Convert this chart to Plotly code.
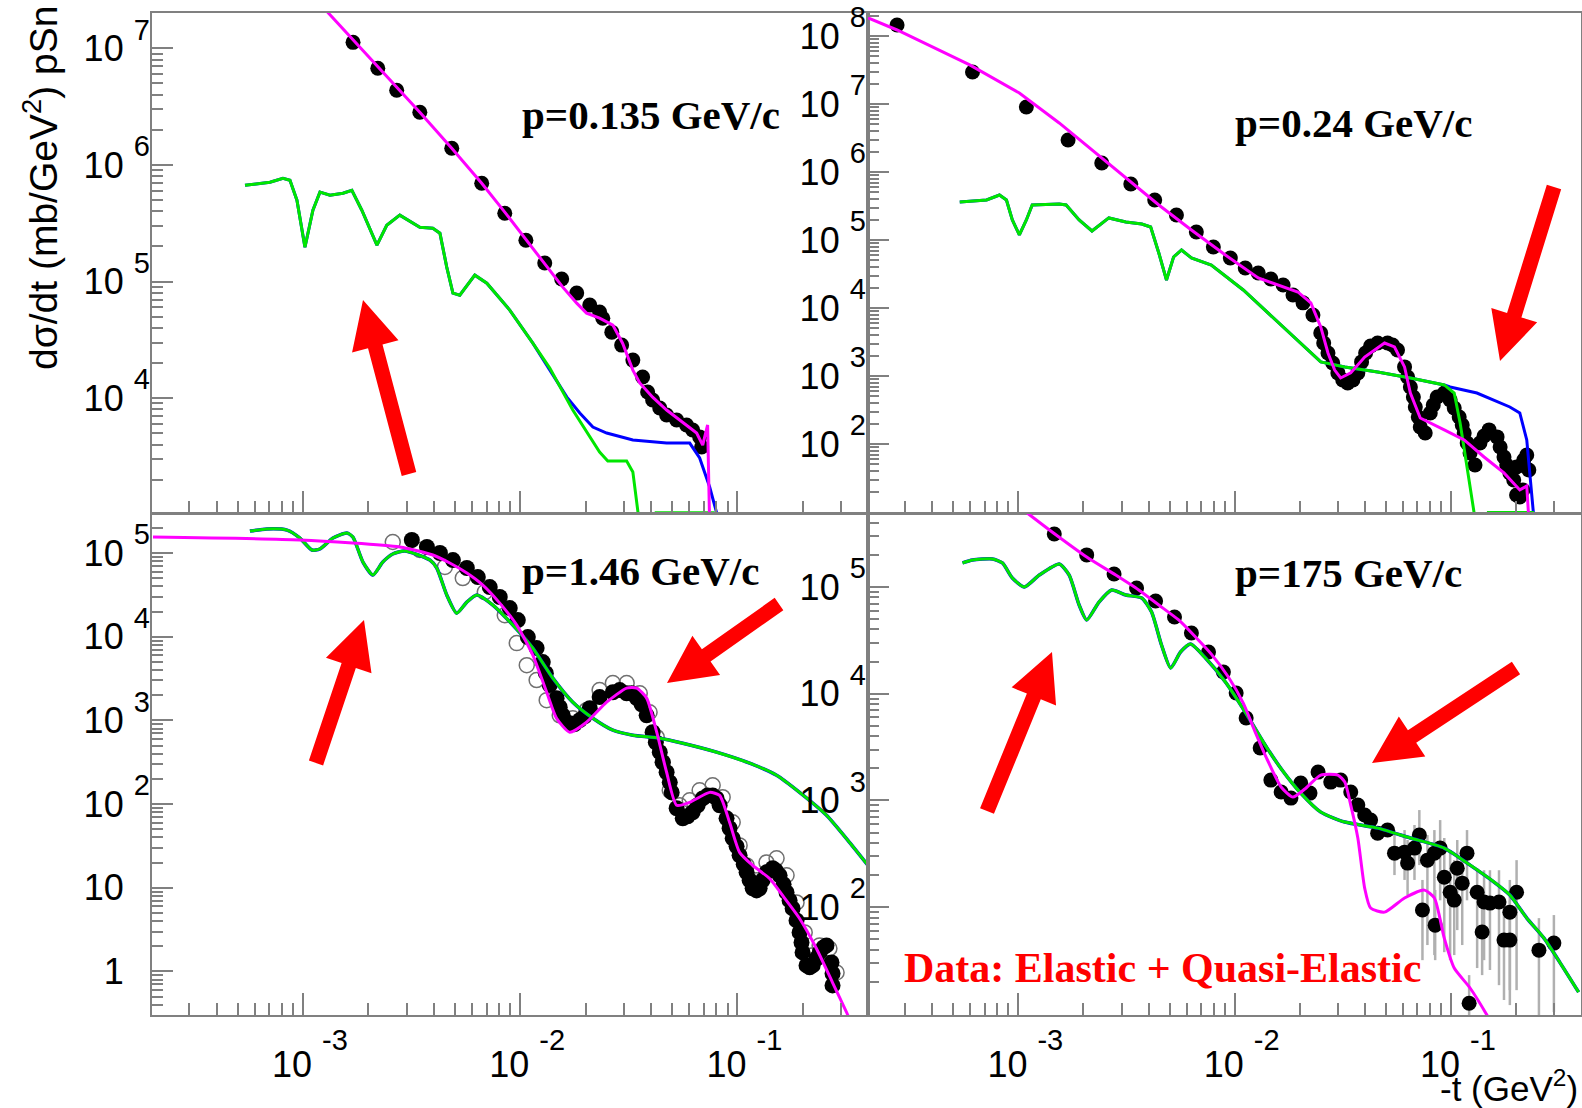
import math
import plotly.graph_objects as go

W, H = 1582, 1108

# ---------------- data ----------------
# Panel 1 : p = 0.135 GeV/c
tl_data_t = [1.70e-3, 2.21e-3, 2.70e-3, 3.45e-3, 4.84e-3, 6.65e-3, 8.49e-3, 1.062e-2, 1.297e-2, 1.552e-2,
             1.82e-2, 2.09e-2, 2.32e-2, 2.40e-2, 2.64e-2, 2.93e-2, 3.30e-2, 3.66e-2, 3.86e-2, 4.07e-2,
             4.39e-2, 4.72e-2, 5.25e-2, 5.83e-2, 6.22e-2, 6.70e-2, 6.84e-2]
tl_data_y = [1.125e7, 6.74e6, 4.37e6, 2.83e6, 1.39e6, 6.97e5, 3.85e5, 2.26e5, 1.44e5, 1.05e5,
             7.96e4, 6.28e4, 5.47e4, 4.85e4, 3.68e4, 2.85e4, 2.12e4, 1.52e4, 1.13e4, 9.64e3,
             8.22e3, 7.16e3, 6.49e3, 5.89e3, 5.33e3, 4.65e3, 3.81e3]
tl_mag_t = [1.135e-3, 2.79e-3, 3.45e-3, 4.84e-3, 6.65e-3, 8.49e-3, 1.072e-2, 1.297e-2, 1.57e-2, 1.82e-2,
            2.02e-2, 2.32e-2, 2.67e-2, 2.96e-2, 3.30e-2, 3.55e-2, 4.07e-2, 4.72e-2, 5.60e-2, 6.49e-2,
            6.92e-2, 7.29e-2, 7.45e-2]
tl_mag_y = [2.68e7, 4.37e6, 2.83e6, 1.39e6, 6.97e5, 3.94e5, 2.26e5, 1.44e5, 8.95e4, 6.53e4,
            5.36e4, 4.85e4, 4.23e4, 2.96e4, 1.74e4, 1.35e4, 1.02e4, 7.91e3, 6.24e3, 5.02e3,
            3.96e3, 5.89e3, 8e2]
tl_green_t = [5.41e-4, 7.05e-4, 8.09e-4, 8.71e-4, 9.38e-4, 1.021e-3, 1.111e-3, 1.197e-3, 1.331e-3, 1.528e-3,
              1.679e-3, 1.866e-3, 2.19e-3, 2.43e-3, 2.79e-3, 3.45e-3, 3.96e-3, 4.27e-3, 4.59e-3, 4.90e-3,
              5.27e-3, 6.18e-3, 7.02e-3, 8.95e-3, 1.143e-2, 1.368e-2, 1.746e-2, 2.02e-2, 2.32e-2, 2.53e-2,
              3.09e-2, 3.30e-2, 3.55e-2]
tl_green_y = [6.70e5, 7.11e5, 7.69e5, 7.40e5, 4.99e5, 1.97e5, 4.09e5, 5.84e5, 5.50e5, 5.72e5,
              6.07e5, 4.09e5, 2.05e5, 3.04e5, 3.71e5, 2.92e5, 2.87e5, 2.60e5, 1.33e5, 7.96e4,
              7.64e4, 1.135e5, 9.68e4, 5.69e4, 2.96e4, 1.81e4, 7.91e3, 5.13e3, 3.45e3, 2.89e3,
              2.89e3, 2.33e3, 8.0e2]
tl_green_floor_t = [4.16e-2, 7.85e-2]
tl_green_floor_y = [1.04e3, 1.04e3]
tl_blue_tail_t = [1.47e-2, 1.64e-2, 1.88e-2, 2.16e-2, 2.50e-2, 3.30e-2, 4.72e-2, 6.03e-2, 6.70e-2, 7.45e-2, 8.02e-2, 8.28e-2]
tl_blue_tail_y = [1.43e4, 1.02e4, 7.45e3, 5.65e3, 5.02e3, 4.37e3, 4.12e3, 4.12e3, 3.07e3, 1.73e3, 1.04e3, 8e2]

# Panel 2 : p = 0.24 GeV/c
tr_data_t = [2.75e-4, 6.14e-4, 1.089e-3, 1.698e-3, 2.43e-3, 3.31e-3, 4.27e-3, 5.38e-3, 6.65e-3, 7.97e-3,
             9.55e-3, 1.119e-2, 1.285e-2, 1.47e-2, 1.675e-2, 1.86e-2, 2.07e-2, 2.30e-2, 2.50e-2, 2.70e-2,
             3.00e-2, 3.33e-2, 3.71e-2, 4.03e-2, 4.58e-2, 5.09e-2, 5.66e-2, 6.10e-2, 6.49e-2, 6.84e-2,
             7.21e-2, 7.60e-2, 8.02e-2, 8.63e-2, 9.31e-2, 9.91e-2, 1.091e-1, 1.151e-1, 1.225e-1, 1.291e-1,
             1.361e-1, 1.50e-1, 1.633e-1, 1.758e-1, 1.871e-1, 2.01e-1, 2.08e-1, 2.17e-1, 2.29e-1,
             2.58e-2, 2.84e-2, 3.16e-2, 3.52e-2, 3.86e-2, 4.25e-2, 5.37e-2, 6.30e-2, 6.70e-2, 7.06e-2,
             8.28e-2, 1.035e-1, 1.127e-1, 1.188e-1, 1.422e-1, 1.687e-1, 1.81e-1, 1.95e-1, 2.13e-1, 2.24e-1,
             2.15e-1, 2.01e-1]
tr_data_y = [1.45e8, 2.96e7, 9.04e6, 2.96e6, 1.355e6, 6.67e5, 3.87e5, 2.33e5, 1.31e5, 7.89e4,
             5.43e4, 3.87e4, 3.27e4, 2.67e4, 2.18e4, 1.55e4, 1.19e4, 7.89e3, 4.29e3, 2.18e3,
             1.11e3, 7.89e2, 1.11e3, 2.18e3, 3.05e3, 3.05e3, 2.41e3, 1.36e3, 6.89e2, 3.50e2,
             1.78e2, 1.45e2, 2.86e2, 4.91e2, 5.62e2, 4.44e2, 2.49e2, 1.45e2, 73.8, 49.1,
             1.035e2, 1.61e2, 1.27e2, 64.4, 37.5, 45.9, 16.6, 58.2, 41.5,
             3.05e3, 1.55e3, 8.73e2, 8.73e2, 1.61e3, 2.76e3, 2.86e3, 9.66e2, 4.91e2, 2.49e2,
             3.75e2, 3.38e2, 1.90e2, 1.035e2, 1.31e2, 90.4, 49.1, 29.6, 49.1, 68.9,
             21.1, 17.8]
tr_mag_t = [2.02e-4, 2.75e-4, 5.96e-4, 1.011e-3, 1.545e-3, 2.19e-3, 3.14e-3, 4.46e-3, 6.31e-3, 9.06e-3,
            1.285e-2, 1.71e-2, 1.96e-2, 2.25e-2, 2.50e-2, 2.70e-2, 2.90e-2, 3.09e-2, 3.44e-2, 3.99e-2,
            4.93e-2, 5.48e-2, 6.10e-2, 6.49e-2, 7.21e-2, 9.31e-2, 1.151e-1, 1.422e-1, 1.758e-1, 2.08e-1,
            2.24e-1, 2.31e-1]
tr_mag_y = [1.84e8, 1.225e8, 3.75e7, 1.45e7, 5.26e6, 2.11e6, 8.17e5, 3.27e5, 1.40e5, 6.01e4,
            2.76e4, 1.97e4, 1.72e4, 1.19e4, 5.26e3, 2.18e3, 1.22e3, 9.35e2, 1.11e3, 1.90e3,
            3.05e3, 2.67e3, 1.36e3, 5.62e2, 2.41e2, 1.61e2, 1.145e2, 64.4, 37.5, 21.1,
            24.1, 5.0]
tr_green_t = [5.36e-4, 7.13e-4, 8.18e-4, 8.81e-4, 9.38e-4, 1.011e-3, 1.089e-3, 1.159e-3, 1.545e-3, 1.663e-3,
              1.91e-3, 2.19e-3, 2.62e-3, 3.14e-3, 3.72e-3, 4.09e-3, 4.46e-3, 4.84e-3, 5.22e-3, 5.68e-3,
              6.31e-3, 7.80e-3, 1.096e-2, 1.552e-2, 2.23e-2, 2.50e-2, 3.23e-2, 4.58e-2, 6.49e-2, 9.31e-2,
              1.035e-1, 1.102e-1, 1.186e-1, 1.279e-1, 1.30e-1]
tr_green_y = [3.62e5, 3.87e5, 4.59e5, 3.87e5, 1.97e5, 1.185e5, 1.97e5, 3.27e5, 3.38e5, 3.27e5,
              1.97e5, 1.355e5, 2.11e5, 1.84e5, 1.72e5, 1.55e5, 6.44e4, 2.58e4, 5.62e4, 7.13e4,
              5.43e4, 4.29e4, 1.84e4, 6.67e3, 2.25e3, 1.61e3, 1.36e3, 1.145e3, 9.35e2, 7.38e2,
              5.62e2, 2.04e2, 45.9, 9.7, 5.0]
tr_green_floor_t = [1.466e-1, 2.42e-1]
tr_green_floor_y = [9.8, 9.8]
tr_blue_tail_t = [9.91e-2, 1.318e-1, 1.871e-1, 2.08e-1, 2.24e-1, 2.42e-1, 2.45e-1]
tr_blue_tail_y = [6.89e2, 5.62e2, 3.50e2, 2.86e2, 1.145e2, 9.7, 5.0]

# Panel 3 : p = 1.46 GeV/c
bl_data_t = [3.17e-3, 3.72e-3, 4.27e-3, 4.90e-3, 5.68e-3, 6.38e-3, 7.24e-3, 8.05e-3, 8.95e-3, 9.75e-3,
             1.084e-2, 1.19e-2, 1.27e-2, 1.368e-2, 1.47e-2, 1.57e-2, 1.69e-2, 1.88e-2, 2.09e-2, 2.32e-2,
             2.67e-2, 3.09e-2, 3.44e-2, 3.82e-2, 4.07e-2, 4.39e-2, 4.72e-2, 4.98e-2, 5.25e-2, 5.60e-2,
             6.22e-2, 6.92e-2, 7.69e-2, 8.28e-2, 8.91e-2, 9.51e-2, 1.023e-1, 1.102e-1, 1.175e-1, 1.265e-1,
             1.361e-1, 1.452e-1, 1.563e-1, 1.683e-1, 1.795e-1, 1.932e-1, 1.995e-1, 2.08e-1, 2.22e-1, 2.39e-1,
             2.57e-1, 2.71e-1, 2.74e-1,
             1.312e-2, 1.52e-2, 1.78e-2, 1.98e-2, 2.87e-2, 3.26e-2, 3.62e-2, 4.21e-2, 4.53e-2, 4.88e-2,
             5.90e-2, 6.56e-2, 7.29e-2, 8.02e-2, 9.20e-2, 9.91e-2, 1.069e-1, 1.138e-1, 1.225e-1, 1.306e-1,
             1.50e-1, 1.63e-1, 1.738e-1, 1.871e-1, 1.972e-1, 2.15e-1, 2.31e-1, 2.49e-1, 2.74e-1]
bl_data_y = [1.43e5, 1.18e5, 1.00e5, 8.24e4, 6.62e4, 5.16e4, 3.92e4, 2.98e4, 2.20e4, 1.58e4,
             9.89e3, 7.31e3, 4.97e3, 2.64e3, 1.845e3, 1.15e3, 9.27e2, 1.005e3, 1.40e3, 1.90e3,
             2.17e3, 2.11e3, 1.845e3, 1.15e3, 7.23e2, 4.17e2, 2.40e2, 1.38e2, 89.1, 67.6,
             79.8, 1.17e2, 1.27e2, 96.8, 67.6, 39.0, 24.4, 15.3, 9.84, 9.84,
             15.3, 17.1, 14.1, 8.81, 5.67, 2.93, 1.69, 1.18, 1.18, 1.69,
             2.05, 1.28, 0.681,
             3.67e3, 1.44e3, 9.02e2, 1.12e3, 2.30e3, 2.11e3, 1.56e3, 5.48e2, 3.16e2, 1.82e2,
             71.4, 96.8, 1.27e2, 1.17e2, 51.4, 31.3, 19.1, 12.3, 9.31, 12.3,
             16.1, 11.0, 7.06, 4.07, 2.22, 1.12, 1.43, 1.94, 0.946]
bl_open_t = [2.59e-3, 3.45e-3, 4.50e-3, 5.44e-3, 6.87e-3, 8.49e-3, 9.64e-3, 1.072e-2, 1.19e-2, 1.324e-2,
             1.52e-2, 1.746e-2, 2.02e-2, 2.32e-2, 2.67e-2, 3.09e-2, 3.55e-2, 3.94e-2, 4.25e-2, 4.53e-2,
             4.88e-2, 5.42e-2, 6.03e-2, 6.70e-2, 7.69e-2, 8.55e-2, 9.51e-2, 1.023e-1, 1.102e-1, 1.225e-1,
             1.361e-1, 1.514e-1, 1.683e-1, 1.871e-1, 2.04e-1, 2.19e-1, 2.39e-1, 2.65e-1, 2.86e-1]
bl_open_y = [1.355e5, 1.086e5, 6.81e4, 5.02e4, 3.41e4, 1.81e4, 8.38e3, 4.57e3, 3.03e3, 1.746e3,
             1.15e3, 1.06e3, 1.325e3, 2.30e3, 2.79e3, 2.79e3, 2.11e3, 1.25e3, 6.30e2, 3.16e2,
             1.46e2, 96.8, 1.11e2, 1.46e2, 1.68e2, 1.21e2, 60.5, 32.1, 18.5, 12.3,
             20.1, 22.5, 14.1, 6.68, 2.93, 1.55, 2.05, 1.88, 0.972]
bl_mag_t = [2.04e-4, 9.68e-4, 2.79e-3, 3.96e-3, 4.74e-3, 5.68e-3, 6.73e-3, 8.05e-3, 9.64e-3, 1.143e-2,
            1.324e-2, 1.47e-2, 1.69e-2, 2.02e-2, 2.50e-2, 3.09e-2, 3.44e-2, 3.82e-2, 4.25e-2, 4.72e-2,
            5.25e-2, 6.03e-2, 7.45e-2, 8.28e-2, 9.20e-2, 1.023e-1, 1.175e-1, 1.406e-1, 1.614e-1, 1.932e-1,
            2.31e-1, 2.74e-1, 3.18e-1, 3.46e-1]
bl_mag_y = [1.55e5, 1.43e5, 1.18e5, 9.46e4, 7.59e4, 5.77e4, 4.14e4, 2.52e4, 1.377e4, 6.03e3,
            2.17e3, 1.06e3, 7.23e2, 9.51e2, 1.65e3, 2.43e3, 2.43e3, 1.845e3, 7.23e2, 2.40e2,
            96.8, 1.05e2, 1.38e2, 1.27e2, 60.5, 26.5, 18.5, 12.9, 8.1, 4.30,
            1.88, 0.738, 0.324, 0.197]
bl_green_t = [5.70e-4, 6.82e-4, 8.44e-4, 9.68e-4, 1.099e-3, 1.197e-3, 1.374e-3, 1.592e-3, 1.698e-3, 1.888e-3,
              2.10e-3, 2.33e-3, 2.59e-3, 2.94e-3, 3.84e-3, 4.13e-3, 4.59e-3, 5.10e-3, 5.68e-3, 6.31e-3,
              7.48e-3, 9.25e-3, 1.143e-2, 1.413e-2, 1.746e-2, 2.16e-2, 2.67e-2, 3.30e-2, 4.39e-2, 5.60e-2,
              8.02e-2, 1.138e-1, 1.514e-1, 1.932e-1, 2.57e-1, 3.28e-1, 4.06e-1]
bl_green_y = [1.83e5, 1.94e5, 1.88e5, 1.51e5, 1.086e5, 1.117e5, 1.51e5, 1.73e5, 1.55e5, 7.80e4,
              5.46e4, 7.80e4, 9.73e4, 1.057e5, 8.24e4, 6.62e4, 3.15e4, 1.91e4, 2.59e4, 3.15e4,
              2.39e4, 1.377e4, 7.31e3, 3.20e3, 1.65e3, 1.06e3, 7.64e2, 6.65e2, 6.12e2, 5.33e2,
              4.17e2, 3.08e2, 2.21e2, 1.38e2, 73.5, 34.9, 17.5]

# Panel 4 : p = 175 GeV/c
br_data_t = [1.466e-3, 2.07e-3, 2.77e-3, 3.52e-3, 4.31e-3, 5.27e-3, 6.31e-3, 7.57e-3, 8.87e-3, 1.016e-2,
             1.13e-2, 1.312e-2, 1.47e-2, 1.64e-2, 1.82e-2, 2.02e-2, 2.23e-2, 2.43e-2, 2.78e-2, 3.09e-2,
             3.44e-2, 3.71e-2, 3.99e-2, 4.25e-2, 4.58e-2, 5.09e-2, 5.48e-2, 6.10e-2, 6.30e-2, 6.78e-2,
             7.14e-2, 7.38e-2, 7.78e-2, 8.38e-2, 8.45e-2, 8.91e-2, 9.31e-2, 9.91e-2, 1.035e-1, 1.069e-1,
             1.127e-1, 1.186e-1, 1.213e-1, 1.321e-1, 1.393e-1, 1.422e-1, 1.514e-1, 1.667e-1, 1.758e-1, 1.871e-1,
             1.871e-1, 2.01e-1, 2.55e-1, 2.99e-1]
br_data_y = [3.14e5, 2.00e5, 1.324e5, 9.79e4, 7.40e4, 5.24e4, 3.71e4, 2.46e4, 1.596e4, 1.016e4,
             5.92e3, 3.10e3, 1.552e3, 1.20e3, 1.052e3, 1.455e3, 1.172e3, 1.845e3, 1.486e3, 1.552e3,
             1.20e3, 9.06e2, 7.30e2, 6.55e2, 4.94e2, 5.28e2, 3.21e2, 3.28e2, 2.59e2, 3.58e2,
             4.74e2, 94.0, 2.76e2, 3.21e2, 67.9, 3.58e2, 1.91e2, 1.38e2, 1.165e2, 2.32e2,
             1.68e2, 3.21e2, 12.6, 1.38e2, 58.5, 1.117e2, 1.092e2, 1.117e2, 49.2, 49.2,
             89.9, 1.38e2, 39.6, 46.1]
# upper / lower ends of the grey error bars (None = bar hidden by the marker)
br_bar_hi = [None] * 26 + [5.28e2, 5.28e2, 4.26e2, 5.89e2, 8.13e2, 1.8e2, 4.74e2, 5.28e2, 1.45e2, 6.55e2,
                           4.45e2, 3.43e2, 2.76e2, 4.26e2, 3.43e2, 5.28e2, 23.1, 2.32e2, 1.05e2, 2.22e2,
                           2.22e2, 2.22e2, 1.05e2, 1.16e2, 1.8e2, 2.76e2, 79.0, 84.4]
br_bar_lo = [None] * 26 + [2.0e2, 1.8e2, 1.30e2, 1.8e2, 2.48e2, 31.9, 44.2, 35.6, 31.9, 1.16e2,
                           37.9, 31.9, 35.6, 61.0, 44.2, 1.16e2, 9.75, 26.9, 23.1, 31.9,
                           25.8, 18.6, 13.5, 12.1, 16.7, 16.7, 9.75, 10.4]
br_mag_t = [1.099e-3, 1.496e-3, 2.07e-3, 2.82e-3, 3.60e-3, 4.46e-3, 5.51e-3, 6.59e-3, 7.80e-3, 9.35e-3,
            1.096e-2, 1.245e-2, 1.397e-2, 1.64e-2, 1.86e-2, 2.11e-2, 2.50e-2, 3.00e-2, 3.23e-2, 3.44e-2,
            3.71e-2, 3.99e-2, 4.25e-2, 4.93e-2, 6.10e-2, 7.53e-2, 8.38e-2, 9.31e-2, 1.035e-1, 1.225e-1,
            1.466e-1, 1.55e-1]
br_mag_y = [4.94e5, 3.07e5, 1.91e5, 1.294e5, 9.38e4, 6.78e4, 4.91e4, 3.40e4, 2.35e4, 1.435e4,
            8.18e3, 4.37e3, 2.55e3, 1.337e3, 1.076e3, 1.28e3, 1.73e3, 1.73e3, 1.486e3, 9.06e2,
            4.45e2, 1.51e2, 98.2, 89.9, 1.22e2, 1.445e2, 1.22e2, 51.3, 26.9, 17.5,
            9.75, 7.9]
br_green_t = [5.52e-4, 6.14e-4, 7.59e-4, 8.44e-4, 9.38e-4, 1.066e-3, 1.25e-3, 1.545e-3, 1.718e-3, 1.91e-3,
              2.07e-3, 2.36e-3, 2.70e-3, 3.14e-3, 3.72e-3, 4.13e-3, 4.59e-3, 5.06e-3, 5.62e-3, 6.25e-3,
              7.33e-3, 9.06e-3, 1.119e-2, 1.384e-2, 1.656e-2, 2.02e-2, 2.50e-2, 3.23e-2, 4.58e-2, 6.49e-2,
              9.31e-2, 1.225e-1, 1.581e-1, 1.871e-1, 2.24e-1, 2.69e-1, 3.18e-1, 3.89e-1]
br_green_y = [1.68e5, 1.79e5, 1.83e5, 1.68e5, 1.214e5, 1.00e5, 1.294e5, 1.644e5, 1.294e5, 6.78e4,
              4.91e4, 7.23e4, 9.38e4, 8.41e4, 7.89e4, 5.83e4, 2.86e4, 1.74e4, 2.46e4, 2.92e4,
              2.16e4, 1.288e4, 6.73e3, 3.30e3, 1.93e3, 1.172e3, 7.78e2, 6.28e2, 5.51e2, 4.45e2,
              3.58e2, 2.48e2, 1.72e2, 1.30e2, 79.1, 51.3, 30.6, 16.0]

panel_labels = ["p=0.135 GeV/c", "p=0.24 GeV/c", "p=1.46 GeV/c", "p=175 GeV/c"]
note_label = "Data: Elastic + Quasi-Elastic"
y_title = "d\u03c3/dt (mb/GeV<sup>2</sup>) pSn"
x_title = "-t (GeV<sup>2</sup>)"

# ---------------- layout helpers ----------------
def px(x):
    return x / W

def py(y):
    return 1 - y / H

AX_COL = "#808080"
TICK_FONT = dict(family="Liberation Sans, Arial, sans-serif", size=36, color="black")
NB = "\u00a0"

def minor_vals(lo, hi):
    vals = []
    for e in range(math.floor(lo), math.ceil(hi) + 1):
        for m in range(2, 10):
            v = m * 10.0 ** e
            if 10 ** lo <= v <= 10 ** hi:
                vals.append(v)
    return vals

def expo(s, lift):
    # raised exponent, roughly the size of the base digits (ROOT style)
    return ("<sup><span style='font-size:%dpx'><sup><span style='font-size:29px'>%s</span></sup></span></sup>"
            % (lift, s))

def ylab(e):
    if e == 0:
        return "1" + NB + expo(NB * 2, 15)
    if e == 1:
        return "10" + NB + expo(NB * 2, 15)
    return "10" + NB + expo(str(e), 15)

def xlab(e):
    return "10" + NB + expo(str(e), 29)

XR = [-3.695, -0.399]
panels = [
    dict(box=(152, 868, 13, 513), yr=[3.015, 7.303], ye=[4, 5, 6, 7], xl=False),
    dict(box=(868, 1581, 13, 513), yr=[0.985, 8.338], ye=[2, 3, 4, 5, 6, 7, 8], xl=False),
    dict(box=(152, 868, 514, 1015), yr=[-0.52, 5.466], ye=[0, 1, 2, 3, 4, 5], xl=True),
    dict(box=(868, 1581, 514, 1015), yr=[0.99, 5.684], ye=[2, 3, 4, 5], xl=True),
]

fig = go.Figure()
layout = dict(width=W, height=H, margin=dict(l=0, r=0, t=0, b=0), autosize=False,
              paper_bgcolor="white", plot_bgcolor="white", showlegend=False)

for i, p in enumerate(panels, start=1):
    x0, x1, y0, y1 = p["box"]
    sfx = "" if i == 1 else str(i)
    layout["xaxis" + sfx] = dict(
        type="log", range=XR, domain=[px(x0), px(x1)], anchor="y" + sfx,
        showline=True, linecolor=AX_COL, linewidth=2, mirror=True, showgrid=False, zeroline=False,
        ticks="inside", ticklen=22, tickwidth=2, tickcolor=AX_COL,
        tickmode="array", tickvals=[1e-3, 1e-2, 1e-1], ticktext=[xlab(-3), xlab(-2), xlab(-1)],
        showticklabels=p["xl"], tickfont=TICK_FONT, ticklabelstandoff=17, ticklabelshift=7,
        minor=dict(tickvals=minor_vals(XR[0], XR[1]), ticks="inside", ticklen=12, tickwidth=2, tickcolor=AX_COL),
        automargin=False, fixedrange=True)
    layout["yaxis" + sfx] = dict(
        type="log", range=p["yr"], domain=[py(y1), py(y0)], anchor="x" + sfx,
        showline=True, linecolor=AX_COL, linewidth=2, mirror=True, showgrid=False, zeroline=False,
        ticks="inside", ticklen=21, tickwidth=2, tickcolor=AX_COL,
        tickmode="array", tickvals=[10.0 ** e for e in p["ye"]], ticktext=[ylab(e) for e in p["ye"]],
        tickfont=TICK_FONT, ticklabelstandoff=-7,
        minor=dict(tickvals=minor_vals(p["yr"][0], p["yr"][1]), ticks="inside", ticklen=11, tickwidth=2, tickcolor=AX_COL),
        automargin=False, fixedrange=True)

fig.update_layout(**layout)

MAG = "#ff00ff"
GRN = "#00e600"
BLU = "#0000ff"

def add_line(t, y, color, width, n, smooth=False):
    sfx = "" if n == 1 else str(n)
    line = dict(color=color, width=width, shape="spline" if smooth else "linear")
    if smooth:
        line["smoothing"] = 0.6
    fig.add_trace(go.Scatter(x=t, y=y, mode="lines", line=line,
                             xaxis="x" + sfx, yaxis="y" + sfx, hoverinfo="skip"))

def add_points(t, y, n, size=15, open_=False, err=None):
    sfx = "" if n == 1 else str(n)
    if open_:
        marker = dict(symbol="circle-open", size=size, color="#707070", line=dict(width=1.5, color="#707070"))
    else:
        marker = dict(symbol="circle", size=size, color="black", line=dict(width=0))
    kw = {}
    if err is not None:
        kw["error_y"] = dict(type="data", symmetric=False, array=err[0], arrayminus=err[1],
                             color="#b0b0b0", thickness=2.5, width=0)
    fig.add_trace(go.Scatter(x=t, y=y, mode="markers", marker=marker, xaxis="x" + sfx, yaxis="y" + sfx,
                             hoverinfo="skip", **kw))

# panel 1
add_points(tl_data_t, tl_data_y, 1)
add_line(tl_green_t[:25] + tl_blue_tail_t, tl_green_y[:25] + tl_blue_tail_y, BLU, 3, 1)
add_line(tl_green_t, tl_green_y, GRN, 3, 1)
add_line(tl_green_floor_t, tl_green_floor_y, GRN, 3, 1)
add_line(tl_mag_t, tl_mag_y, MAG, 3, 1)
# panel 2
add_points(tr_data_t, tr_data_y, 2, size=15)
add_line(tr_green_t[:30] + tr_blue_tail_t, tr_green_y[:30] + tr_blue_tail_y, BLU, 3, 2)
add_line(tr_green_t, tr_green_y, GRN, 3, 2)
add_line(tr_green_floor_t, tr_green_floor_y, GRN, 3, 2)
add_line(tr_mag_t, tr_mag_y, MAG, 3, 2)
# panel 3
add_points(bl_open_t, bl_open_y, 3, size=15, open_=True)
add_points(bl_data_t, bl_data_y, 3, size=16)
add_line(bl_green_t, bl_green_y, BLU, 3.5, 3, smooth=True)
add_line(bl_green_t, bl_green_y, GRN, 3, 3, smooth=True)
add_line(bl_mag_t, bl_mag_y, MAG, 3, 3, smooth=True)
# panel 4
plus = [0 if h is None else h - v for h, v in zip(br_bar_hi, br_data_y)]
minus = [0 if l is None else v - l for l, v in zip(br_bar_lo, br_data_y)]
add_points(br_data_t, br_data_y, 4, size=15, err=(plus, minus))
add_line(br_green_t, br_green_y, BLU, 3.5, 4, smooth=True)
add_line(br_green_t, br_green_y, GRN, 3, 4, smooth=True)
add_line(br_mag_t, br_mag_y, MAG, 3, 4, smooth=True)

# ---------------- text ----------------
LBL_FONT = dict(family="Liberation Serif, Times New Roman, serif", size=41, color="black")
ann = []
for txt, (lx, ly) in zip(panel_labels, [(520, 115), (1233, 123), (520, 571), (1233, 573)]):
    ann.append(dict(text="<b>" + txt + "</b>", x=px(lx), y=py(ly), xref="paper", yref="paper",
                    xanchor="left", yanchor="middle", showarrow=False, font=LBL_FONT))
ann.append(dict(text="<b>" + note_label + "</b>", x=px(902), y=py(968), xref="paper", yref="paper",
                xanchor="left", yanchor="middle", showarrow=False,
                font=dict(family="Liberation Serif, Times New Roman, serif", size=42, color="#ff0000")))
ann.append(dict(text=y_title, x=px(40), y=py(4), xref="paper", yref="paper", textangle=-90,
                xanchor="center", yanchor="top", showarrow=False,
                font=dict(family="Liberation Sans, Arial, sans-serif", size=39, color="black")))
ann.append(dict(text=x_title, x=px(1580), y=py(1086), xref="paper", yref="paper",
                xanchor="right", yanchor="middle", showarrow=False,
                font=dict(family="Liberation Sans, Arial, sans-serif", size=35, color="black")))
fig.update_layout(annotations=ann)

# ---------------- red arrows (pixel geometry) ----------------
arrows = [((409, 474), (363, 300)), ((1554, 187), (1500, 361)), ((316, 763), (364, 620)),
          ((779, 604), (667, 683)), ((987, 811), (1052, 652)), ((1516, 668), (1372, 763))]

def arrow_path(tail, tip, w=7.5, L=48, Hh=24):
    dx, dy = tip[0] - tail[0], tip[1] - tail[1]
    n = math.hypot(dx, dy)
    ux, uy = dx / n, dy / n
    nx, ny = -uy, ux
    neck = (tip[0] - ux * L, tip[1] - uy * L)
    pts = [(tail[0] + nx * w, tail[1] + ny * w), (neck[0] + nx * w, neck[1] + ny * w),
           (neck[0] + nx * Hh, neck[1] + ny * Hh), tip,
           (neck[0] - nx * Hh, neck[1] - ny * Hh), (neck[0] - nx * w, neck[1] - ny * w),
           (tail[0] - nx * w, tail[1] - ny * w)]
    return "M " + " L ".join(f"{px(a):.5f},{py(b):.5f}" for a, b in pts) + " Z"

fig.update_layout(shapes=[dict(type="path", path=arrow_path(a, b), xref="paper", yref="paper",
                               fillcolor="#ff0000", line=dict(width=0), layer="above") for a, b in arrows])

fig.write_html("out.html", config={"displayModeBar": False})
